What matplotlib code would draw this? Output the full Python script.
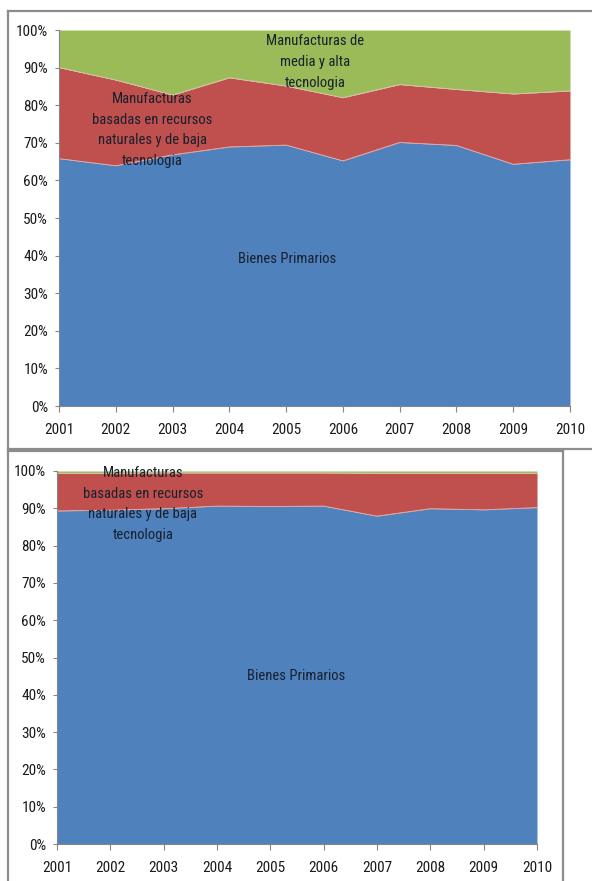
import matplotlib
matplotlib.use("Agg")
import matplotlib.pyplot as plt
import numpy as np
from matplotlib.lines import Line2D
from matplotlib.ticker import FuncFormatter, MultipleLocator
from matplotlib import font_manager

installed = {f.name for f in font_manager.fontManager.ttflist}
narrow_candidates = ['Liberation Sans Narrow', 'DejaVu Sans Condensed', 'Roboto Condensed',
                     'Open Sans Condensed', 'Noto Sans Condensed', 'Arial Narrow']
narrow = [f for f in narrow_candidates if f in installed]
if narrow:
    plt.rcParams['font.family'] = [narrow[0], 'DejaVu Sans']
    tick_fs, txt_fs = 11, 10.5
    chosen = narrow[0]
else:
    plt.rcParams['font.family'] = ['DejaVu Sans']
    tick_fs, txt_fs = 8.5, 8.5
    chosen = 'DejaVu Sans'
if chosen == 'DejaVu Sans Condensed':
    tick_fs, txt_fs = 9.5, 9.5

years = [2001, 2002, 2003, 2004, 2005, 2006, 2007, 2008, 2009, 2010]

# Top chart shares (%)
top_primarios = [65.8, 63.9, 66.8, 68.9, 69.4, 65.2, 70.1, 69.3, 64.3, 65.5]
top_baja = [24.2, 22.8, 15.9, 18.4, 15.7, 16.8, 15.4, 14.9, 18.7, 18.3]
top_alta = [10.0, 13.3, 17.3, 12.7, 14.9, 18.0, 14.5, 15.8, 17.0, 16.2]

# Bottom chart shares (%)
bot_primarios = [89.3, 89.5, 89.9, 90.6, 90.5, 90.6, 87.9, 89.9, 89.6, 90.2]
bot_alta = [0.6, 0.6, 0.5, 0.5, 0.5, 0.5, 0.6, 0.6, 0.6, 0.6]
bot_baja = [100 - p - a for p, a in zip(bot_primarios, bot_alta)]

colors = ['#4F81BD', '#C0504D', '#9BBB59']
lbl_primarios = 'Bienes Primarios'
lbl_baja = 'Manufacturas\nbasadas en recursos\nnaturales y de baja\ntecnologia'
lbl_alta = 'Manufacturas de\nmedia y alta\ntecnologia'

W, H = 592, 881
fig = plt.figure(figsize=(W / 100, H / 100), dpi=100)


def px_axes(left, right, top, bottom):
    return fig.add_axes([left / W, (H - bottom) / H, (right - left) / W, (bottom - top) / H])


def draw(ax, series):
    x = np.array(years, dtype=float)
    base = np.zeros(len(years))
    for s, c in zip(series, colors):
        s = np.array(s, dtype=float)
        ax.fill_between(x, base, base + s, color=c, lw=0)
        base = base + s
    cum = np.zeros(len(years))
    for s in series[:-1]:
        cum = cum + np.array(s, dtype=float)
        ax.plot(x, cum, color='#e8c4c3', lw=0.5)
    ax.set_xlim(years[0], years[-1])
    ax.set_ylim(0, 100)
    ax.set_xticks(years)
    ax.yaxis.set_major_locator(MultipleLocator(10))
    ax.yaxis.set_major_formatter(FuncFormatter(lambda v, p: f'{int(round(v))}%'))
    for sp in ['top', 'right']:
        ax.spines[sp].set_visible(False)
    for sp in ['left', 'bottom']:
        ax.spines[sp].set_color('#868686')
        ax.spines[sp].set_linewidth(0.8)
    ax.tick_params(axis='x', direction='out', length=4.3, width=0.8, color='#868686',
                   pad=8, labelsize=tick_fs, labelcolor='#1a1a1a')
    ax.tick_params(axis='y', direction='out', length=3, width=0.8, color='#868686',
                   pad=5, labelsize=tick_fs, labelcolor='#1a1a1a')


ax1 = px_axes(59, 570, 30, 406)
draw(ax1, [top_primarios, top_baja, top_alta])
ax2 = px_axes(57, 537, 471, 844)
draw(ax2, [bot_primarios, bot_baja, bot_alta])

tcol = '#17202e'
kw = dict(ha='center', va='center', fontsize=txt_fs, color=tcol, linespacing=1.6)
fig.text(315 / W, 1 - 62 / H, lbl_alta, **kw)
fig.text(152 / W, 1 - 130 / H, lbl_baja, **kw)
fig.text(287 / W, 1 - 259 / H, lbl_primarios, **kw)
fig.text(143 / W, 1 - 504 / H, lbl_baja, **kw)
fig.text(296 / W, 1 - 676 / H, lbl_primarios, **kw)

# panel borders
bc = '#8c8c8c'
def fline(x0, y0, x1, y1):
    fig.add_artist(Line2D([x0 / W, x1 / W], [1 - y0 / H, 1 - y1 / H],
                          transform=fig.transFigure, color=bc, lw=1.6))

fline(8, 11, 592, 11)
fline(8, 11, 8, 449)
fline(8, 449, 592, 449)
fline(8, 451, 563, 451)
fline(8, 451, 8, 881)
fline(563, 451, 563, 881)

fig.savefig('out.png', dpi=100)
